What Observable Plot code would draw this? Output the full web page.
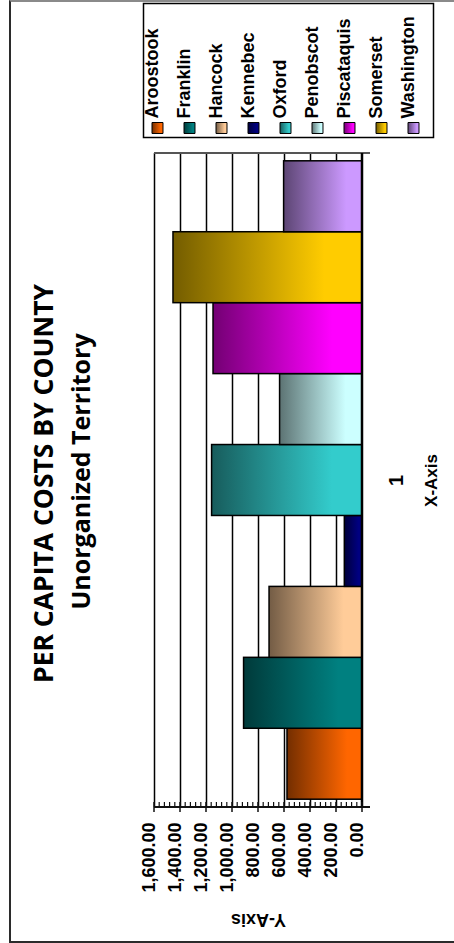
<!DOCTYPE html>
<html><head><meta charset="utf-8">
<script src="https://cdn.jsdelivr.net/npm/d3@7"></script>
<script src="https://cdn.jsdelivr.net/npm/@observablehq/plot@0.6"></script>
<style>
html,body{margin:0;padding:0;background:#fff;}
#wrap{position:relative;width:454px;height:943px;overflow:hidden;background:#fff;}
#outer{position:absolute;left:9px;top:0;width:520px;height:939px;border:2px solid #2b2b2b;border-top-color:#8a8a8a;}
#main{position:absolute;left:0;top:0;}
#legend{position:absolute;left:143px;top:3px;}
</style></head><body>
<div id="wrap"><div id="outer"></div><div id="main"></div><div id="legend"></div></div>
<script>
// ---- data ----
const counties = ["Aroostook","Franklin","Hancock","Kennebec","Oxford","Penobscot","Piscataquis","Somerset","Washington"];
const values = [577, 911, 715, 136, 1157, 634, 1146, 1454, 603];
const colors = ["#ff6600","#008080","#ffcc99","#000080","#33cccc","#ccffff","#ff00ff","#ffcc00","#cc99ff"];
const yTicks = [0, 200, 400, 600, 800, 1000, 1200, 1400, 1600];
const yTickLabels = ["0.00","200.00","400.00","600.00","800.00","1,000.00","1,200.00","1,400.00","1,600.00"];
const categoryLabels = ["1"];
const titleText = "PER CAPITA COSTS BY COUNTY";
const subtitleText = "Unorganized Territory";
const xAxisTitle = "X-Axis";
const yAxisTitle = "Y-Axis";
const minorTicks = d3.range(0, 1601, 40).filter(v => v % 200 !== 0);

// ---- gradients ----
const defsSvg = d3.select("body").append("svg").attr("width", 0).attr("height", 0)
  .style("position", "absolute").style("left", 0).style("top", 0);
const defs = defsSvg.append("defs");
colors.forEach((c, i) => {
  const g = defs.append("linearGradient").attr("id", "grad" + i)
    .attr("x1", 0).attr("x2", 1).attr("y1", 0).attr("y2", 0);
  g.append("stop").attr("offset", 0).attr("stop-color", d3.interpolateRgb(c, "#000")(0.55));
  g.append("stop").attr("offset", 0.8).attr("stop-color", c);
  g.append("stop").attr("offset", 1).attr("stop-color", c);
});

const data = counties.map((c, i) => ({county: c, value: values[i], fill: `url(#grad${i})`}));

const labelFont = "'Liberation Sans', Arial, sans-serif";

function axisFurniture(index, scales, values, dims) {
  const x = scales.x;
  const top = dims.marginTop, bot = dims.height - dims.marginBottom;
  const xMax = x(d3.max(yTicks)), x0 = x(0);
  const g = d3.create("svg:g").attr("fill", "none");
  g.append("line").attr("x1", xMax).attr("x2", x0 + 8).attr("y1", top).attr("y2", top)
    .attr("stroke", "#555").attr("stroke-width", 2);
  g.append("line").attr("x1", xMax).attr("x2", x0 + 8).attr("y1", bot).attr("y2", bot)
    .attr("stroke", "#111").attr("stroke-width", 2);
  g.append("line").attr("x1", x0).attr("x2", x0).attr("y1", top).attr("y2", bot)
    .attr("stroke", "#000").attr("stroke-width", 2.5);
  yTicks.forEach(t => g.append("line").attr("x1", x(t)).attr("x2", x(t)).attr("y1", bot - 5).attr("y2", bot + 5)
    .attr("stroke", "#111").attr("stroke-width", 1.5));
  minorTicks.forEach(t => g.append("line").attr("x1", x(t)).attr("x2", x(t)).attr("y1", bot - 5).attr("y2", bot)
    .attr("stroke", "#111").attr("stroke-width", 1.2));
  return g.node();
}

const main = Plot.plot({
  width: 454, height: 943,
  marginTop: 153, marginBottom: 136, marginLeft: 154, marginRight: 92,
  x: {domain: [0, 1600], reverse: true, axis: null},
  y: {type: "band", domain: counties.slice().reverse(), paddingInner: 0, paddingOuter: 0.11, round: false, axis: null},
  color: {type: "identity"},
  style: {background: "transparent", fontFamily: labelFont, overflow: "visible"},
  marks: [
    Plot.ruleX(yTicks.filter(t => t > 0), {stroke: "#000", strokeWidth: 1.5}),
    Plot.barX(data, {x1: 0, x2: "value", y: "county", fill: "fill", stroke: "#000", strokeWidth: 1.5}),
    axisFurniture,
    Plot.text(yTicks, {x: d => d, frameAnchor: "bottom", dy: 15, rotate: -90, textAnchor: "end",
      text: (d, i) => yTickLabels[i], fontSize: 18, fontWeight: "bold", fill: "#000"}),
    Plot.text([yAxisTitle], {frameAnchor: "bottom", dy: 106, rotate: 180, textAnchor: "middle", text: d => d,
      fontSize: 18, fontWeight: "bold", fill: "#000"}),
    Plot.text(categoryLabels, {frameAnchor: "right", dx: 34, rotate: -90, textAnchor: "middle", text: d => d,
      fontSize: 20, fontWeight: "bold", fill: "#000"}),
    Plot.text([xAxisTitle], {frameAnchor: "right", dx: 69, rotate: -90, textAnchor: "middle", text: d => d,
      fontSize: 17, fontWeight: "bold", fill: "#000"}),
    Plot.text([titleText], {frameAnchor: "left", dx: -110, dy: 3, rotate: -90, textAnchor: "middle", text: d => d,
      fontSize: 26.5, fontWeight: "bold", fontFamily: "'Open Sans', sans-serif", fill: "#000"}),
    Plot.text([subtitleText], {frameAnchor: "left", dx: -73, dy: -9, rotate: -90, textAnchor: "middle", text: d => d,
      fontSize: 25, fontWeight: "bold", fontFamily: "'Open Sans', sans-serif", fill: "#000"})
  ]
});
document.getElementById("main").appendChild(main);

const legend = Plot.plot({
  width: 290, height: 134, margin: 0,
  x: {type: "point", domain: counties, range: [13.5, 269.5], padding: 0, axis: null},
  color: {type: "identity"},
  style: {background: "#fff", fontFamily: labelFont, overflow: "visible"},
  marks: [
    Plot.frame({stroke: "#000", strokeWidth: 1.5}),
    Plot.dot(data, {x: "county", frameAnchor: "bottom", dy: -9.5, symbol: "square", r: 6.2,
      fill: "fill", stroke: "#000", strokeWidth: 1}),
    Plot.text(data, {x: "county", frameAnchor: "bottom", dy: -19, rotate: -90, textAnchor: "start",
      text: "county", fontSize: 18, fontWeight: "bold", fill: "#000"})
  ]
});
document.getElementById("legend").appendChild(legend);
</script>
</body></html>
